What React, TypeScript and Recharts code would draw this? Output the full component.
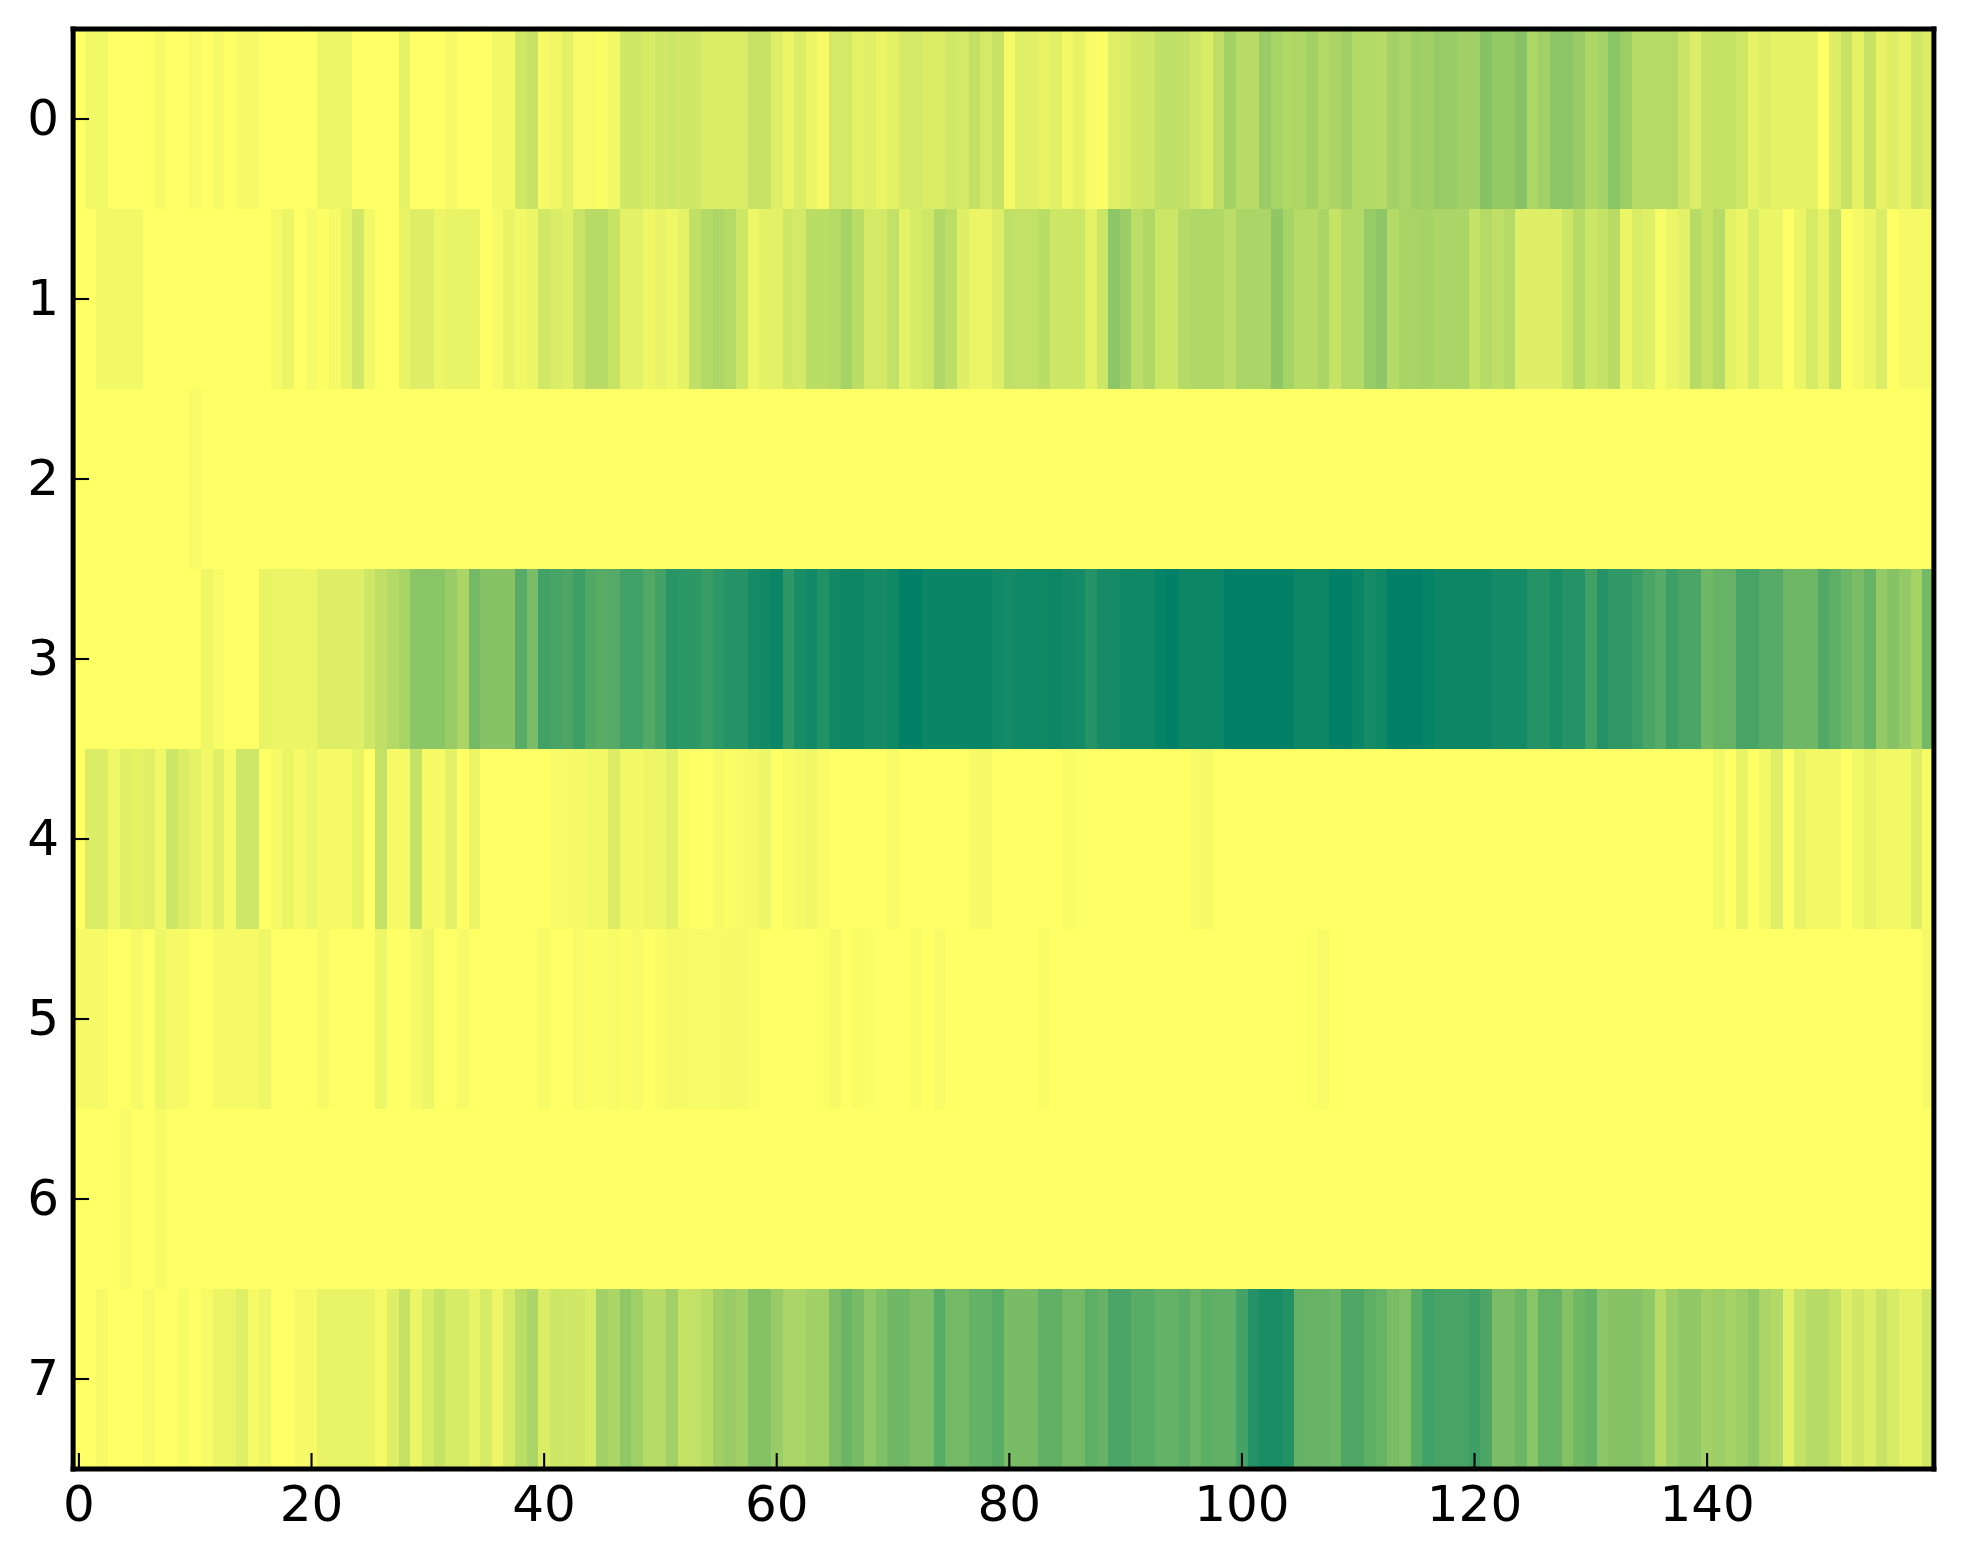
import { Bar, BarChart, Cell, XAxis, YAxis } from 'recharts';

// one value per column, 0 = yellow, 100 = dark green (summer_r)
const row0 = [
  0, 5, 5, 0, 0, 0, 0, 4, 0, 0, 3, 0, 4, 0, 4, 4, 0, 0, 0, 0,
  0, 7, 7, 7, 0, 0, 0, 0, 10, 0, 0, 0, 4, 0, 0, 0, 5, 5, 18, 22,
  4, 6, 11, 3, 3, 1, 5, 18, 18, 16, 18, 20, 18, 18, 14, 14, 14, 14, 22, 22,
  13, 8, 14, 8, 4, 17, 17, 10, 12, 8, 11, 17, 17, 14, 14, 18, 17, 24, 17, 22,
  4, 12, 12, 9, 12, 5, 9, 3, 1, 12, 15, 18, 19, 25, 25, 24, 19, 15, 25, 36,
  28, 28, 40, 34, 31, 32, 36, 30, 33, 37, 30, 30, 29, 36, 33, 38, 37, 41, 41, 37,
  37, 47, 42, 42, 47, 32, 37, 45, 45, 40, 32, 35, 46, 38, 29, 29, 29, 29, 21, 14,
  22, 23, 23, 19, 9, 13, 10, 10, 10, 10, 0, 13, 22, 10, 22, 9, 13, 9, 18, 14,
];
const row1 = [
  0, 0, 5, 5, 5, 5, 0, 0, 0, 0, 0, 0, 0, 0, 0, 0, 0, 4, 8, 0,
  4, 1, 4, 9, 18, 5, 0, 0, 9, 13, 13, 7, 9, 9, 9, 0, 4, 9, 5, 8,
  18, 15, 12, 21, 28, 28, 22, 11, 11, 6, 9, 6, 10, 25, 30, 32, 29, 20, 7, 11,
  11, 18, 17, 27, 27, 29, 35, 27, 17, 17, 24, 10, 16, 19, 31, 26, 13, 8, 8, 13,
  25, 24, 24, 27, 20, 20, 20, 10, 20, 45, 39, 26, 31, 20, 20, 29, 31, 31, 31, 26,
  33, 33, 33, 44, 35, 29, 28, 33, 22, 30, 30, 41, 44, 29, 34, 34, 35, 33, 33, 33,
  23, 29, 25, 29, 13, 13, 13, 13, 20, 28, 20, 23, 28, 8, 15, 12, 3, 8, 11, 28,
  22, 28, 11, 8, 16, 8, 8, 0, 8, 16, 9, 22, 0, 4, 8, 14, 0, 4, 4, 4,
];
const row2 = [
  0, 0, 0, 0, 0, 0, 0, 0, 0, 0, 3, 0, 0, 0, 0, 0, 0, 0, 0, 0,
  0, 0, 0, 0, 0, 0, 0, 0, 0, 0, 0, 0, 0, 0, 0, 0, 0, 0, 0, 0,
  0, 0, 0, 0, 0, 0, 0, 0, 0, 0, 0, 0, 0, 0, 0, 0, 0, 0, 0, 0,
  0, 0, 0, 0, 0, 0, 0, 0, 0, 0, 0, 0, 0, 0, 0, 0, 0, 0, 0, 0,
  0, 0, 0, 0, 0, 0, 0, 0, 0, 0, 0, 0, 0, 0, 0, 0, 0, 0, 0, 0,
  0, 0, 0, 0, 0, 0, 0, 0, 0, 0, 0, 0, 0, 0, 0, 0, 0, 0, 0, 0,
  0, 0, 0, 0, 0, 0, 0, 0, 0, 0, 0, 0, 0, 0, 0, 0, 0, 0, 0, 0,
  0, 0, 0, 0, 0, 0, 0, 0, 0, 0, 0, 0, 0, 0, 0, 0, 0, 0, 0, 0,
];
const row3 = [
  0, 0, 0, 0, 0, 0, 0, 0, 0, 0, 0, 6, 3, 0, 0, 0, 9, 8, 8, 8,
  8, 13, 13, 13, 13, 19, 25, 30, 34, 46, 46, 46, 40, 33, 55, 47, 47, 47, 66, 52,
  74, 72, 70, 76, 68, 65, 67, 74, 74, 68, 73, 84, 83, 82, 78, 82, 85, 85, 91, 93,
  96, 82, 90, 93, 87, 93, 95, 95, 92, 91, 94, 100, 100, 96, 96, 96, 96, 96, 96, 93,
  92, 94, 94, 94, 95, 93, 92, 85, 91, 91, 94, 94, 94, 98, 100, 95, 95, 95, 95, 100,
  100, 100, 100, 100, 99, 95, 95, 95, 100, 100, 96, 91, 94, 100, 100, 100, 98, 95, 95, 95,
  95, 95, 92, 92, 92, 85, 85, 90, 85, 85, 75, 86, 81, 81, 77, 71, 66, 76, 71, 71,
  56, 60, 60, 72, 72, 66, 66, 57, 57, 57, 68, 63, 57, 52, 60, 42, 47, 42, 35, 55,
];
const row4 = [
  0, 14, 14, 6, 12, 10, 12, 5, 20, 14, 10, 5, 12, 4, 19, 19, 0, 4, 8, 4,
  7, 4, 4, 4, 9, 0, 24, 4, 4, 23, 4, 4, 11, 0, 8, 0, 0, 0, 0, 0,
  0, 3, 3, 4, 5, 5, 14, 5, 5, 7, 7, 11, 2, 0, 0, 4, 1, 3, 4, 7,
  0, 3, 4, 6, 2, 0, 0, 0, 0, 0, 3, 0, 0, 0, 0, 0, 0, 4, 4, 0,
  0, 0, 0, 0, 0, 2, 1, 0, 0, 0, 0, 0, 0, 0, 0, 0, 3, 4, 0, 0,
  0, 0, 0, 0, 0, 0, 0, 0, 0, 0, 0, 0, 0, 0, 0, 0, 0, 0, 0, 0,
  0, 0, 0, 0, 0, 0, 0, 0, 0, 0, 0, 0, 0, 0, 0, 0, 0, 0, 0, 0,
  0, 5, 0, 9, 0, 5, 13, 0, 9, 5, 5, 5, 0, 5, 9, 5, 5, 5, 13, 3,
];
const row5 = [
  4, 4, 4, 0, 0, 4, 0, 7, 4, 4, 0, 0, 4, 4, 4, 4, 6, 0, 0, 0,
  0, 4, 0, 0, 0, 0, 7, 0, 0, 4, 7, 0, 0, 4, 0, 0, 0, 0, 0, 0,
  3, 0, 0, 3, 1, 1, 3, 1, 3, 0, 2, 4, 4, 3, 3, 3, 4, 4, 2, 0,
  0, 0, 0, 0, 1, 4, 0, 2, 1, 0, 0, 0, 2, 0, 3, 0, 0, 0, 0, 0,
  0, 0, 0, 2, 0, 0, 0, 0, 0, 0, 0, 0, 0, 0, 0, 0, 0, 0, 0, 0,
  0, 0, 0, 0, 0, 0, 1, 3, 0, 0, 0, 0, 0, 0, 0, 0, 0, 0, 0, 0,
  0, 0, 0, 0, 0, 0, 0, 0, 0, 0, 0, 0, 0, 0, 0, 0, 0, 0, 0, 0,
  0, 0, 0, 0, 0, 0, 0, 0, 0, 0, 0, 0, 0, 0, 0, 0, 0, 0, 0, 4,
];
const row6 = [
  0, 0, 0, 0, 3, 0, 0, 3, 0, 0, 0, 0, 0, 0, 0, 0, 0, 0, 0, 0,
  0, 0, 0, 0, 0, 0, 0, 0, 0, 0, 0, 0, 0, 0, 0, 0, 0, 0, 0, 0,
  0, 0, 0, 0, 0, 0, 0, 0, 0, 0, 0, 0, 0, 0, 0, 0, 0, 0, 0, 0,
  0, 0, 0, 0, 0, 0, 0, 0, 0, 0, 0, 0, 0, 0, 0, 0, 0, 0, 0, 0,
  0, 0, 0, 0, 0, 0, 0, 0, 0, 0, 0, 0, 0, 0, 0, 0, 0, 0, 0, 0,
  0, 0, 0, 0, 0, 0, 0, 0, 0, 0, 0, 0, 0, 0, 0, 0, 0, 0, 0, 0,
  0, 0, 0, 0, 0, 0, 0, 0, 0, 0, 0, 0, 0, 0, 0, 0, 0, 0, 0, 0,
  0, 0, 0, 0, 0, 0, 0, 0, 0, 0, 0, 0, 0, 0, 0, 0, 0, 0, 0, 0,
];
const row7 = [
  0, 0, 4, 0, 0, 0, 3, 0, 0, 3, 0, 3, 8, 8, 12, 4, 7, 0, 0, 4,
  4, 9, 9, 9, 9, 9, 4, 13, 23, 8, 16, 22, 16, 16, 9, 16, 7, 16, 27, 33,
  14, 20, 19, 18, 15, 36, 33, 43, 37, 28, 28, 37, 23, 24, 27, 37, 40, 37, 48, 48,
  40, 33, 33, 37, 37, 51, 58, 53, 43, 50, 56, 56, 51, 51, 65, 55, 55, 61, 61, 65,
  53, 53, 53, 62, 62, 55, 55, 63, 60, 71, 71, 65, 65, 61, 61, 64, 58, 63, 62, 62,
  73, 86, 90, 90, 87, 61, 60, 60, 57, 69, 69, 63, 60, 52, 50, 65, 74, 72, 72, 72,
  76, 70, 52, 52, 58, 46, 60, 60, 48, 56, 60, 45, 47, 47, 47, 43, 28, 38, 43, 43,
  36, 38, 35, 38, 43, 33, 30, 11, 23, 28, 28, 23, 13, 18, 13, 21, 16, 10, 10, 18,
];

const rows = [row0, row1, row2, row3, row4, row5, row6, row7];
const xTicks = [0, 20, 40, 60, 80, 100, 120, 140];
const yTicks = [0.5, 1.5, 2.5, 3.5, 4.5, 5.5, 6.5, 7.5];

// every row is one unit tall in the stack, the value only sets the colour
const chartData = row0.map((_, col) => {
  const item: Record<string, number> = { col };
  rows.forEach((_r, i) => {
    item[`r${i}`] = 1;
  });
  return item;
});

const heatColor = (v: number) => {
  const t = 1 - v / 100;
  return `rgb(${Math.round(255 * t)},${Math.round(128 + 127 * t)},102)`;
};

const tickFont = { fontFamily: 'DejaVu Sans', fontSize: 50, fill: '#000' };
const axisStyle = { stroke: '#000', strokeWidth: 5, strokeLinecap: 'square' as const };
const tickStyle = { stroke: '#000', strokeWidth: 2.1 };

export default function App() {
  return (
    <div style={{ position: 'absolute', left: 0, top: 0, width: 1963, height: 1564, background: '#fff', overflow: 'hidden' }}>
      <style>{'.recharts-bar-rectangle path{shape-rendering:crispEdges}'}</style>
      <BarChart
        width={1963}
        height={1564}
        data={chartData}
        barCategoryGap={0}
        barGap={0}
        margin={{ top: 28, right: 28.095, bottom: 25, left: 0.105 }}
      >
        {rows.map((row, i) => (
          <Bar key={i} dataKey={`r${i}`} stackId="heat" barSize={11.6299} isAnimationActive={false}>
            {row.map((v, col) => (
              <Cell key={col} fill={heatColor(v)} />
            ))}
          </Bar>
        ))}
        <XAxis
          dataKey="col"
          type="category"
          xAxisId={0}
          height={70}
          ticks={xTicks}
          interval={0}
          axisLine={axisStyle}
          tickLine={tickStyle}
          tickSize={-16}
          tickMargin={32}
          tick={tickFont}
        />
        <XAxis
          dataKey="col"
          type="category"
          xAxisId="top"
          orientation="top"
          height={1}
          ticks={xTicks}
          interval={0}
          axisLine={axisStyle}
          tickLine={tickStyle}
          tickSize={-16}
          tick={false}
        />
        <YAxis
          yAxisId={0}
          type="number"
          width={73}
          reversed
          domain={[0, 8]}
          ticks={yTicks}
          interval={0}
          axisLine={axisStyle}
          tickLine={tickStyle}
          tickSize={-16}
          tickMargin={30}
          tick={{ ...tickFont, dy: -2 }}
          tickFormatter={(v: number) => String(v - 0.5)}
        />
        <YAxis
          yAxisId="right"
          type="number"
          orientation="right"
          width={1}
          reversed
          domain={[0, 8]}
          ticks={yTicks}
          interval={0}
          axisLine={axisStyle}
          tickLine={tickStyle}
          tickSize={-16}
          tick={false}
        />
      </BarChart>
    </div>
  );
}
